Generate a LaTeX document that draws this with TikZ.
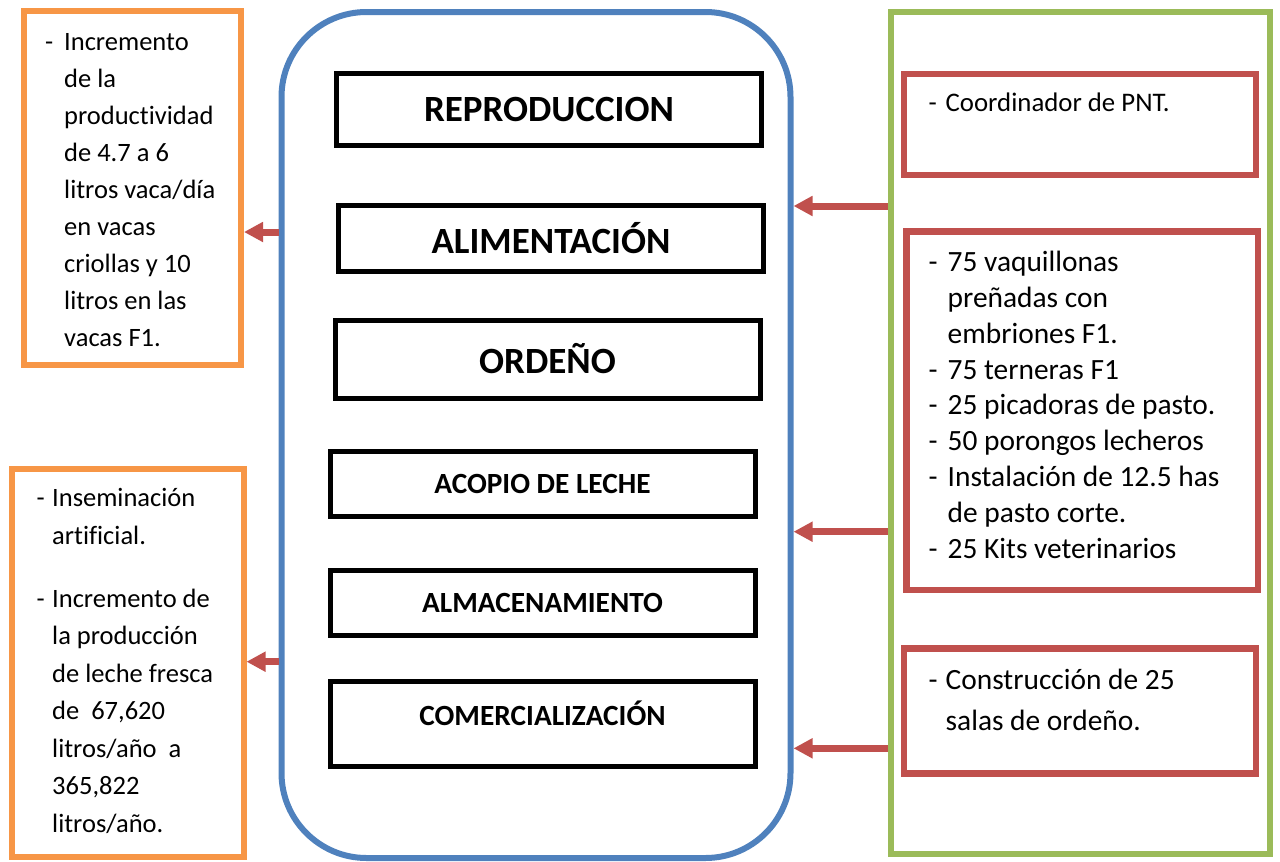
\documentclass[tikz,border=0pt]{standalone}
\usepackage{fontspec}
\setmainfont{Carlito}[Ligatures=NoCommon]
\usepackage{tikz}
\usetikzlibrary{arrows.meta}
\definecolor{azul}{HTML}{4F81BD}
\definecolor{naranja}{HTML}{F79646}
\definecolor{verde}{HTML}{9BBB59}
\definecolor{rojo}{HTML}{C0504D}
\newcommand{\guion}[1]{\makebox[#1][l]{-}}
\newcommand{\sangria}[1]{\hspace*{#1}}

\begin{document}
\begin{tikzpicture}[x=1pt, y=-1pt,
  caja/.style={draw, line width=5pt, inner sep=0pt, minimum width=425pt},
  marco/.style={draw, line width=6pt, inner sep=0pt},
  lista/.style={anchor=base west, inner sep=0pt, align=left},
  grande/.style={font=\bfseries\fontsize{37}{44}\selectfont},
  chica/.style={font=\bfseries\fontsize{29.3}{35}\selectfont},
  flecha/.style={rojo, line width=7pt, -{Triangle[length=19pt, width=19pt]}}]
  \useasboundingbox (0,0) rectangle (1280,862);

  % proceso
  \node[marco, azul, rounded corners=85pt, minimum width=509pt, minimum height=846pt] (proceso) at (536,435) {};
  \node[caja, grande, minimum height=71.5pt] (b1) at (549,109.25) {REPRODUCCION};
  \node[caja, grande, minimum height=66.5pt] (b2) at (551,238.25) {ALIMENTACIÓN};
  \node[caja, grande, minimum height=78pt] (b3) at (547.5,359) {ORDEÑO};
  \node[caja, chica, minimum height=65pt] (b4) at (542.5,484) {ACOPIO DE LECHE};
  \node[caja, chica, minimum height=65pt] (b5) at (542.5,602.5) {ALMACENAMIENTO};
  \node[caja, minimum height=85pt] (b6) at (542.5,724) {};
  \node[chica] (t6) at ([yshift=11pt]b6.center) {COMERCIALIZACIÓN};

  % resultados (base = ultima linea)
  \node[marco, naranja, minimum width=217.5pt, minimum height=354.5pt] (res1) at (132.25,187.75) {};
  \node[lista, font=\fontsize{26.5}{37.1}\selectfont] (txt1) at (45,346.8)
    {\guion{19pt}Incremento\\
     \sangria{19pt}de la\\
     \sangria{19pt}productividad\\
     \sangria{19pt}de 4.7 a 6\\
     \sangria{19pt}litros vaca/día\\
     \sangria{19pt}en vacas\\
     \sangria{19pt}criollas y 10\\
     \sangria{19pt}litros en las\\
     \sangria{19pt}vacas F1.};

  \node[marco, naranja, minimum width=232pt, minimum height=388pt] (res2) at (127.5,662.5) {};
  \node[lista, font=\fontsize{26.5}{37.5}\selectfont] (txt2) at (36.5,832.2)
    {\guion{15.5pt}Inseminación\\
     \sangria{15.5pt}artificial.\\[25.5pt]
     \guion{15.5pt}Incremento de\\
     \sangria{15.5pt}la producción\\
     \sangria{15.5pt}de leche fresca\\
     \sangria{15.5pt}de\ \ 67,620\\
     \sangria{15.5pt}litros/año\ \ a\\
     \sangria{15.5pt}365,822\\
     \sangria{15.5pt}litros/año.};

  % recursos
  \node[marco, verde, minimum width=379pt, minimum height=842pt] (recursos) at (1080,432.5) {};

  \node[marco, rojo, line width=6.5pt, minimum width=352pt, minimum height=101pt] (k1) at (1080,124.5) {};
  \node[lista, font=\fontsize{26.8}{32}\selectfont] (txt3) at (928.5,111.7)
    {\guion{17pt}Coordinador de PNT.};

  \node[marco, rojo, line width=6.5pt, minimum width=351.3pt, minimum height=358.3pt] (k2) at (1082.3,410.8) {};
  \node[lista, font=\fontsize{29.4}{35.8}\selectfont] (txt4) at (928.5,558.1)
    {\guion{19pt}75 vaquillonas\\
     \sangria{19pt}preñadas con\\
     \sangria{19pt}embriones F1.\\
     \guion{19pt}75 terneras F1\\
     \guion{19pt}25 picadoras de pasto.\\
     \guion{19pt}50 porongos lecheros\\
     \guion{19pt}Instalación de 12.5 has\\
     \sangria{19pt}de pasto corte.\\
     \guion{19pt}25 Kits veterinarios};

  \node[marco, rojo, line width=6.5pt, minimum width=352pt, minimum height=125pt] (k3) at (1080,710.8) {};
  \node[lista, font=\fontsize{29.4}{40.7}\selectfont] (txt5) at (928.5,730)
    {\guion{17pt}Construcción de 25\\
     \sangria{17pt}salas de ordeño.};

  % flechas
  \draw[flecha] (proceso.west |- 0,232) -- (res1.east |- 0,232);
  \draw[flecha] (proceso.west |- 0,661.7) -- (res2.east |- 0,661.7);
  \draw[flecha] (recursos.west |- 0,206) -- (proceso.east |- 0,206);
  \draw[flecha] (recursos.west |- 0,531.7) -- (proceso.east |- 0,531.7);
  \draw[flecha] (recursos.west |- 0,748.3) -- (proceso.east |- 0,748.3);
\end{tikzpicture}
\end{document}
